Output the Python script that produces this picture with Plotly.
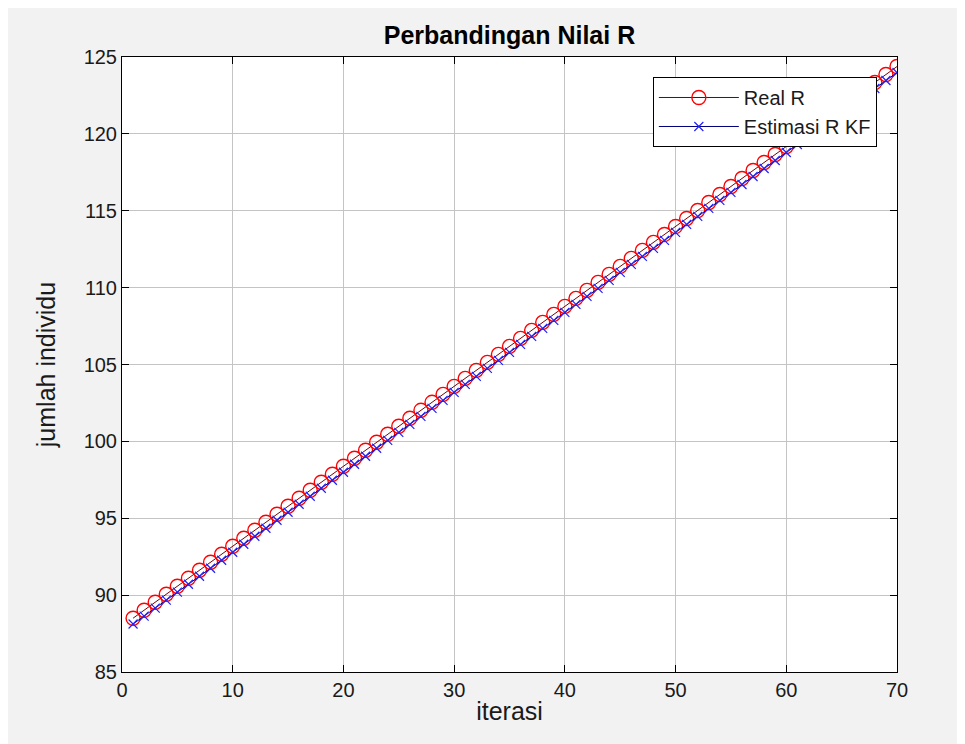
import plotly.graph_objects as go

iterasi = list(range(1, 71))

real_r = [88.50, 89.02, 89.54, 90.06, 90.58, 91.10, 91.62, 92.14, 92.66, 93.18,
          93.70, 94.22, 94.74, 95.26, 95.78, 96.30, 96.82, 97.34, 97.86, 98.38,
          98.90, 99.42, 99.94, 100.46, 100.98, 101.50, 102.02, 102.54, 103.06, 103.58,
          104.10, 104.62, 105.14, 105.66, 106.18, 106.70, 107.22, 107.74, 108.26, 108.78,
          109.30, 109.82, 110.34, 110.86, 111.38, 111.90, 112.42, 112.94, 113.46, 113.98,
          114.50, 115.02, 115.54, 116.06, 116.58, 117.10, 117.62, 118.14, 118.66, 119.18,
          119.70, 120.22, 120.74, 121.26, 121.78, 122.30, 122.82, 123.34, 123.86, 124.38]

estimasi_r_kf = [88.12, 88.63, 89.15, 89.67, 90.19, 90.71, 91.23, 91.75, 92.27, 92.79,
                 93.31, 93.83, 94.35, 94.87, 95.39, 95.91, 96.43, 96.95, 97.47, 97.99,
                 98.51, 99.03, 99.55, 100.07, 100.59, 101.11, 101.63, 102.15, 102.67, 103.19,
                 103.71, 104.23, 104.75, 105.27, 105.79, 106.31, 106.83, 107.35, 107.87, 108.39,
                 108.91, 109.43, 109.95, 110.47, 110.99, 111.51, 112.03, 112.55, 113.07, 113.59,
                 114.11, 114.63, 115.15, 115.67, 116.19, 116.71, 117.23, 117.75, 118.27, 118.79,
                 119.31, 119.83, 120.35, 120.87, 121.39, 121.91, 122.43, 122.95, 123.47, 123.99]

x_ticks = [0, 10, 20, 30, 40, 50, 60, 70]
y_ticks = [85, 90, 95, 100, 105, 110, 115, 120, 125]

FONT = "Liberation Sans, Arial, sans-serif"
TXT = "#1a1a1a"

fig = go.Figure()
fig.add_trace(go.Scatter(
    x=iterasi, y=real_r, name="Real R", mode="lines+markers",
    line=dict(color="#7a0000", width=1),
    marker=dict(symbol="circle-open", size=14, color="#ff0000", line=dict(width=1.4, color="#ff0000")),
))
fig.add_trace(go.Scatter(
    x=iterasi, y=estimasi_r_kf, name="Estimasi R KF", mode="lines+markers",
    line=dict(color="#00007a", width=1),
    marker=dict(symbol="x-thin-open", size=9, color="#2020ff", line=dict(width=1.2, color="#2020ff")),
))

axis_common = dict(
    showline=True, linecolor="black", linewidth=1, mirror="ticks",
    ticks="inside", ticklen=7, tickcolor="black",
    showgrid=True, gridcolor="#c4c4c4", gridwidth=1,
    zeroline=False, tickfont=dict(family=FONT, size=20, color=TXT),
)

fig.update_xaxes(range=[0, 70], tickvals=x_ticks, **axis_common,
                 title=dict(text="iterasi", font=dict(family=FONT, size=25, color=TXT), standoff=2))
fig.update_yaxes(range=[85, 125], tickvals=y_ticks, **axis_common,
                 title=dict(text="jumlah individu", font=dict(family=FONT, size=25, color=TXT), standoff=20))

fig.update_layout(
    width=957, height=736,
    margin=dict(l=114, r=68, t=49, b=72),
    paper_bgcolor="#f2f2f2", plot_bgcolor="white",
    title=dict(text="<b>Perbandingan Nilai R</b>", x=0.5, xref="paper", xanchor="center",
               y=0.963, yanchor="middle",
               font=dict(family=FONT, size=25, color="black")),
    showlegend=True,
    legend=dict(x=0.974, y=0.9675, xanchor="right", yanchor="top",
                bgcolor="white", bordercolor="black", borderwidth=1,
                font=dict(family=FONT, size=20, color=TXT),
                itemwidth=80, tracegroupgap=0),
)

fig.write_html("out.html")
